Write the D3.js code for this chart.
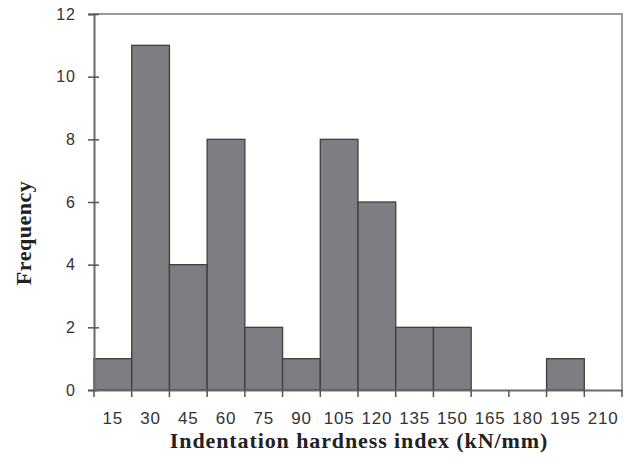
<!DOCTYPE html>
<html><head><meta charset="utf-8">
<script src="https://cdn.jsdelivr.net/npm/d3@7"></script>
<style>body{margin:0;background:#fff}</style>
</head><body>
<svg id="c" width="624" height="464"></svg>
<script>
const categories = ["15","30","45","60","75","90","105","120","135","150","165","180","195","210"];
const frequency = [1,11,4,8,2,1,8,6,2,2,0,0,1,0];
const yTicks = [0,2,4,6,8,10,12];

const svg = d3.select("#c");
const L = 94, R = 622, T = 14, B = 390;
const x = d3.scaleBand().domain(categories).range([L, R]).padding(0);
const y = d3.scaleLinear().domain([0, 12]).range([B, T]);

// frame top & right
svg.append("path").attr("d", `M${L},${T}H${R}V${B}`).attr("fill","none").attr("stroke","#9a9a9a").attr("stroke-width",2);

// bars
svg.selectAll("rect.bar").data(categories.map((c,i)=>({c, v:frequency[i]})).filter(d=>d.v>0))
  .enter().append("rect").attr("class","bar")
  .attr("x", d=>x(d.c)).attr("width", x.bandwidth())
  .attr("y", d=>y(d.v)).attr("height", d=>y(0)-y(d.v))
  .attr("fill","#7e7e82").attr("stroke","#3e3e40").attr("stroke-width",1.3);

// y axis
const ya = svg.append("g").attr("transform",`translate(${L},0)`)
  .call(d3.axisLeft(y).tickValues(yTicks).tickSize(6).tickPadding(12));
ya.select(".domain").attr("stroke","#6a6a6a").attr("stroke-width",2);
ya.selectAll(".tick line").attr("stroke","#555").attr("stroke-width",1.5).attr("x2",5).attr("x1",-6);
ya.selectAll(".tick text").attr("font-family","Liberation Sans, Arial, sans-serif").attr("font-size",16).attr("letter-spacing",1).attr("fill","#333");

// x axis
const xa = svg.append("g").attr("transform",`translate(0,${B})`)
  .call(d3.axisBottom(x).tickSize(0).tickPadding(22));
xa.select(".domain").attr("stroke","#6a6a6a").attr("stroke-width",2);
xa.selectAll(".tick text").attr("font-family","Liberation Sans, Arial, sans-serif").attr("font-size",17).attr("letter-spacing",0.8).attr("fill","#333");
// boundary ticks
const bounds = categories.map(c=>x(c)).concat([R]);
svg.append("g").selectAll("line").data(bounds).enter().append("line")
  .attr("x1",d=>d).attr("x2",d=>d).attr("y1",B).attr("y2",B+7)
  .attr("stroke","#555").attr("stroke-width",1.5);

// titles
svg.append("text").attr("x",359).attr("y",448).attr("text-anchor","middle")
  .attr("font-family","Liberation Serif, Times New Roman, serif").attr("font-weight","bold")
  .attr("font-size",22).attr("letter-spacing",0.9).attr("fill","#222").text("Indentation hardness index (kN/mm)");
svg.append("text").attr("transform","translate(31,233) rotate(-90)").attr("text-anchor","middle")
  .attr("font-family","Liberation Serif, Times New Roman, serif").attr("font-weight","bold")
  .attr("font-size",22).attr("letter-spacing",0.5).attr("fill","#222").text("Frequency");
</script>
</body></html>
